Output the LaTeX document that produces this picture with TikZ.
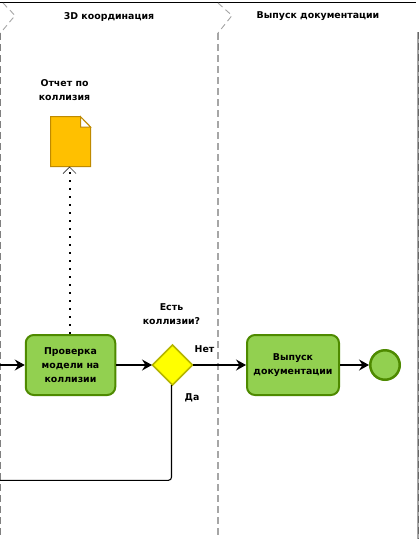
\documentclass[tikz,border=0pt]{standalone}
\usepackage{fontspec}
\setmainfont{DejaVu Sans}
\usetikzlibrary{arrows.meta}
\definecolor{lanegray}{HTML}{A6A6A6}
\definecolor{taskfill}{HTML}{92D050}
\definecolor{taskline}{HTML}{4E8A00}
\definecolor{docfill}{HTML}{FFC000}
\definecolor{docline}{HTML}{BF8A00}
\definecolor{gwline}{HTML}{B5B500}
\definecolor{gwfill}{HTML}{FFFF00}
\tikzset{
  lane/.style={draw=lanegray,line width=1.6pt,dash pattern=on 7pt off 4pt},
  laneedge/.style={draw=black,line width=1.5pt},
  chev/.style={draw=lanegray,line width=0.9pt,dash pattern=on 6pt off 4pt},
  title/.style={font=\bfseries\fontsize{9.4}{10}\selectfont,align=center,inner sep=0pt},
  tasklabel/.style={font=\bfseries\fontsize{9.4}{14}\selectfont,align=center,inner sep=0pt},
  taskbox/.style={draw=taskline,fill=taskfill,line width=2pt,rounded corners=8pt,minimum height=60pt,tasklabel},
  flow/.style={draw=black,line width=1.05pt,-{Stealth[length=10pt,width=11pt,inset=3.5pt]}},
  plain/.style={draw=black,line width=1.05pt},
}
\begin{document}
\begin{tikzpicture}[x=1pt,y=-1pt]
\useasboundingbox (0,0) rectangle (420,539);
\fill[white] (0,0) rectangle (420,539);
% lanes
\draw[lane,draw=gray] (0.5,33) -- (0.5,539);
\draw[lane] (218,33) -- (218,539);
\draw[lanegray,line width=1.2pt] (418,32) -- (418,539);
\draw[draw=black!60,line width=1pt,dash pattern=on 7pt off 4pt] (418,32) -- (418,539);
\draw[laneedge] (0,2.7) -- (416,2.7);
\draw[chev] (3,3) -- (15,15.5) -- (0.5,33);
\draw[chev] (218,3) -- (232,15.5) -- (218,33);
\node[title] (t1) at (109,16.5) {3D координация};
\node[title] (t2) at (318,16.5) {Выпуск документации};
% document
\path[draw=docline,fill=docfill,line width=1pt] (50.5,116.7) -- (80.5,116.7) -- (90.5,127) -- (90.5,166.7) -- (50.5,166.7) -- cycle;
\path[draw=docline,fill=white,line width=1pt] (80.5,116.7) -- (80.5,127) -- (90.5,127) -- cycle;
\coordinate (doc) at (69.5,167);
\node[tasklabel,font=\bfseries\fontsize{9.4}{14.5}\selectfont] (doclabel) at (64.5,90) {Отчет по\\коллизия};
% nodes
\node[taskbox,minimum width=89.5pt] (check) at (70.5,365) {Проверка\\модели на\\коллизии};
\node[taskbox,minimum width=92pt] (issue) at (293,365) {Выпуск\\документации};
\path[draw=gwline,fill=gwfill,line width=1.6pt] (172.5,345) -- (192.5,365) -- (172.5,385) -- (152.5,365) -- cycle;
\coordinate (gwE) at (192.5,365);
\coordinate (gwW) at (152,365);
\coordinate (gwS) at (171.5,385);
\node[draw=taskline,fill=taskfill,circle,line width=2.5pt,minimum size=29.5pt,inner sep=0pt] (end) at (385,365) {};
\node[tasklabel] (q) at (171.5,314) {Есть\\коллизии?};
\node[tasklabel] (no) at (204.5,349) {Нет};
\node[tasklabel] (yes) at (192,398) {Да};
% connectors
\coordinate (inL) at (0,365);
\coordinate (backL) at (0,480.3);
\coordinate (dottop) at (69.5,333.5);
\draw[flow] (inL) -- (check.west);
\draw[flow] (check.east) -- (gwW);
\draw[flow] (gwE) -- (issue.west);
\draw[flow] (issue.east) -- (end.west);
\draw[plain,rounded corners=3pt] (gwS) -- (171.5,480.3) -- (backL);
\draw[black,line width=2pt,dash pattern=on 2pt off 6pt] (dottop) -- (doc);
\draw[black!80,line width=0.7pt] (63,173.5) -- (69.5,167) -- (76,173.5);
\end{tikzpicture}
\end{document}
